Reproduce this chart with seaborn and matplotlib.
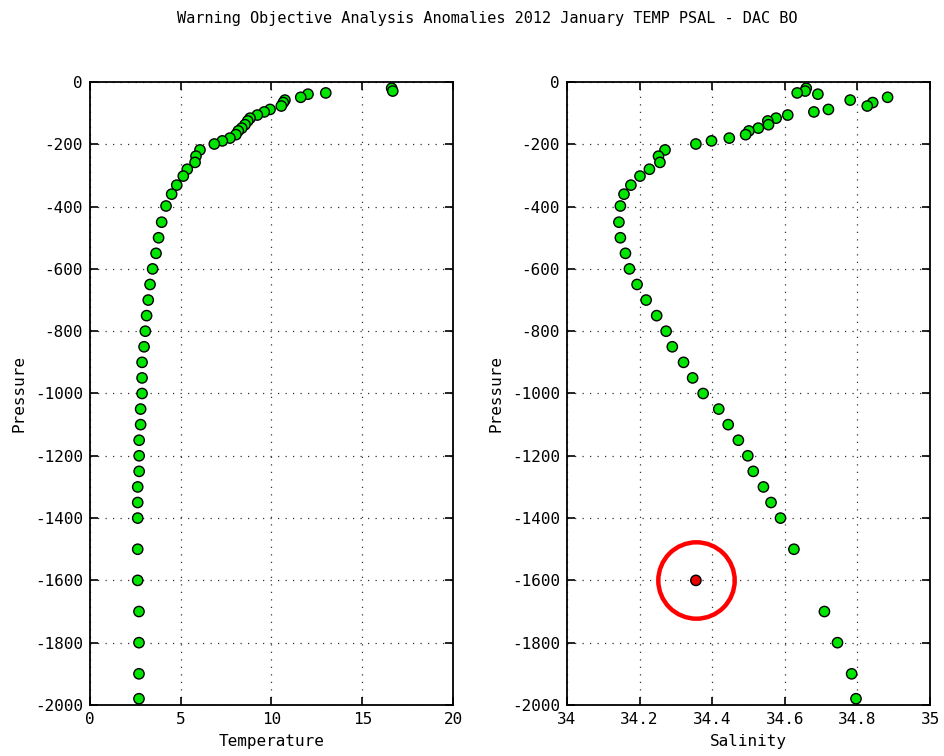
import numpy as np
import pandas as pd
import matplotlib
matplotlib.use("Agg")
import matplotlib.pyplot as plt
import seaborn as sns


# profile data
pressure = [
    -20, -29, -35, -39, -49, -58, -66, -77, -88, -96, -106, -116, -125, -137,
    -148, -157, -169, -180, -189, -199, -218, -238, -258, -280, -302, -331,
    -360, -398, -450, -500, -550, -600, -650, -700, -750, -800, -850, -900,
    -950, -1000, -1050, -1100, -1150, -1200, -1250, -1300, -1350, -1400,
    -1500, -1600, -1700, -1800, -1900, -1980,
]
temperature = [
    16.62, 16.68, 12.99, 12.01, 11.61, 10.74, 10.65, 10.54, 9.92, 9.60, 9.22,
    8.82, 8.69, 8.54, 8.36, 8.17, 8.04, 7.71, 7.29, 6.85, 6.06, 5.84, 5.79,
    5.36, 5.14, 4.78, 4.50, 4.19, 3.95, 3.78, 3.64, 3.45, 3.31, 3.21, 3.12,
    3.05, 2.98, 2.87, 2.87, 2.87, 2.79, 2.79, 2.71, 2.71, 2.71, 2.63, 2.63,
    2.63, 2.63, 2.63, 2.70, 2.70, 2.70, 2.70,
]
salinity = [
    34.659, 34.656, 34.634, 34.691, 34.883, 34.780, 34.842, 34.827, 34.720,
    34.680, 34.608, 34.576, 34.553, 34.555, 34.527, 34.501, 34.492, 34.447,
    34.398, 34.355, 34.270, 34.252, 34.256, 34.227, 34.201, 34.176, 34.157,
    34.147, 34.143, 34.147, 34.161, 34.172, 34.193, 34.218, 34.247, 34.273,
    34.290, 34.321, 34.346, 34.375, 34.418, 34.444, 34.472, 34.498, 34.513,
    34.541, 34.562, 34.588, 34.625, 34.355, 34.709, 34.745, 34.784, 34.796,
]
flagged_pressure = -1600  # salinity anomaly level

temp_ticks = [0, 5, 10, 15, 20]
sal_ticks = [34, 34.2, 34.4, 34.6, 34.8, 35]
sal_ticklabels = ["34", "34.2", "34.4", "34.6", "34.8", "35"]
pres_ticks = [0, -200, -400, -600, -800, -1000, -1200, -1400, -1600, -1800, -2000]

df = pd.DataFrame({"pres": pressure, "temp": temperature, "psal": salinity})
df["flag"] = np.where(df["pres"] == flagged_pressure, "bad", "good")
df["tflag"] = "good"

sns.set_style("ticks")
plt.rcParams["font.family"] = ["DejaVu Sans Mono"]
plt.rcParams["text.color"] = "black"
plt.rcParams["axes.labelcolor"] = "black"
plt.rcParams["xtick.color"] = "black"
plt.rcParams["ytick.color"] = "black"

green = "#00e600"
red = "#e60000"
fig = plt.figure(figsize=(9.45, 7.56), dpi=100)
ax1 = fig.add_axes([0.0952, 0.0675, 0.3842, 0.824])
ax2 = fig.add_axes([0.6, 0.0675, 0.3842, 0.824])

sns.scatterplot(data=df, x="temp", y="pres", hue="tflag", palette={"good": green},
                s=55, edgecolor="black", linewidth=1.0, legend=False, ax=ax1, zorder=3)
sns.scatterplot(data=df, x="psal", y="pres", hue="flag", palette={"good": green, "bad": red},
                s=55, edgecolor="black", linewidth=1.0, legend=False, ax=ax2, zorder=3)

# circle around the flagged salinity point
bad = df[df["flag"] == "bad"]
ax2.plot(bad["psal"], bad["pres"], "o", ms=55, mfc="none", mec="#ff0000", mew=3.2, zorder=4)

for ax, xt, xl, lab in [(ax1, temp_ticks, [str(t) for t in temp_ticks], "Temperature"),
                        (ax2, sal_ticks, sal_ticklabels, "Salinity")]:
    ax.set_xlim(xt[0], xt[-1])
    ax.set_ylim(-2000, 0)
    ax.set_xticks(xt)
    ax.set_xticklabels(xl)
    ax.set_yticks(pres_ticks)
    ax.set_yticklabels([str(p) for p in pres_ticks])
    ax.grid(True, color="black", linestyle=(0, (1, 5)), linewidth=0.9, alpha=0.8)
    ax.tick_params(direction="in", length=6, width=1.2, top=True, right=True, labelsize=11.5, pad=5)
    for sp in ax.spines.values():
        sp.set_linewidth(1.3)
        sp.set_color("black")
    ax.set_xlabel(lab, fontsize=11.5, labelpad=5)
    ax.set_ylabel("Pressure", fontsize=11.5, labelpad=6)

fig.suptitle("Warning Objective Analysis Anomalies 2012 January TEMP PSAL - DAC BO",
             fontsize=11, x=0.516, y=0.985)

plt.savefig("out.png", dpi=100)
